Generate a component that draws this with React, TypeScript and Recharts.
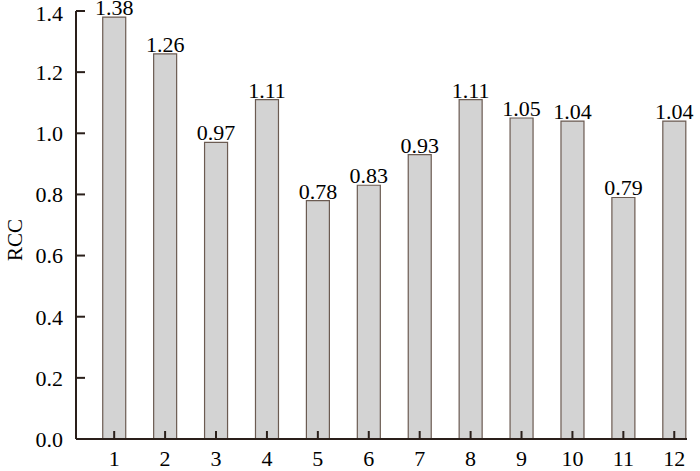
import React from 'react';
import { BarChart, Bar, XAxis, YAxis, LabelList } from 'recharts';

const categories = [1, 2, 3, 4, 5, 6, 7, 8, 9, 10, 11, 12];
const rccValues = [1.38, 1.26, 0.97, 1.11, 0.78, 0.83, 0.93, 1.11, 1.05, 1.04, 0.79, 1.04];
const yTicks = [0, 0.2, 0.4, 0.6, 0.8, 1.0, 1.2, 1.4];

const data = categories.map((c, i) => ({ cat: c, rcc: rccValues[i] }));

const font = '"Liberation Serif", "Times New Roman", serif';
const axisColor = '#2a1f1a';

export default function App() {
  return (
    <div style={{ position: 'absolute', left: 0, top: 0, background: '#fff' }}>
      <BarChart
        width={700}
        height={471}
        data={data}
        margin={{ top: 11, right: 13, bottom: 0, left: 0 }}
      >
        <XAxis
          dataKey="cat"
          type="number"
          domain={[0.25, 12.25]}
          ticks={categories}
          allowDataOverflow
          height={32}
          tickSize={-8}
          tickMargin={19}
          stroke={axisColor}
          strokeWidth={2}
          tick={{ fill: '#000', fontSize: 22, fontFamily: font }}
          tickLine={{ stroke: axisColor, strokeWidth: 2 }}
        />
        <YAxis
          type="number"
          domain={[0, 1.4]}
          ticks={yTicks}
          width={76}
          tickSize={-9}
          tickMargin={22}
          stroke={axisColor}
          strokeWidth={2}
          tickFormatter={(v: number) => v.toFixed(1)}
          tick={{ fill: '#000', fontSize: 22, fontFamily: font }}
          tickLine={{ stroke: axisColor, strokeWidth: 2 }}
          label={{
            value: 'RCC',
            content: () => (
              <text
                x={15}
                y={240}
                transform="rotate(-90 15 240)"
                textAnchor="middle"
                dominantBaseline="central"
                fontSize={21}
                fontFamily={font}
                fill="#000"
              >
                RCC
              </text>
            ),
          }}
        />
        <Bar
          dataKey="rcc"
          barSize={23}
          fill="#d3d3d3"
          stroke="#6b5b52"
          strokeWidth={1.2}
          isAnimationActive={false}
        >
          <LabelList
            dataKey="rcc"
            position="top"
            offset={2}
            formatter={(v: number) => v.toFixed(2)}
            style={{ fill: '#000', fontSize: 22, fontFamily: font }}
          />
        </Bar>
      </BarChart>
    </div>
  );
}
